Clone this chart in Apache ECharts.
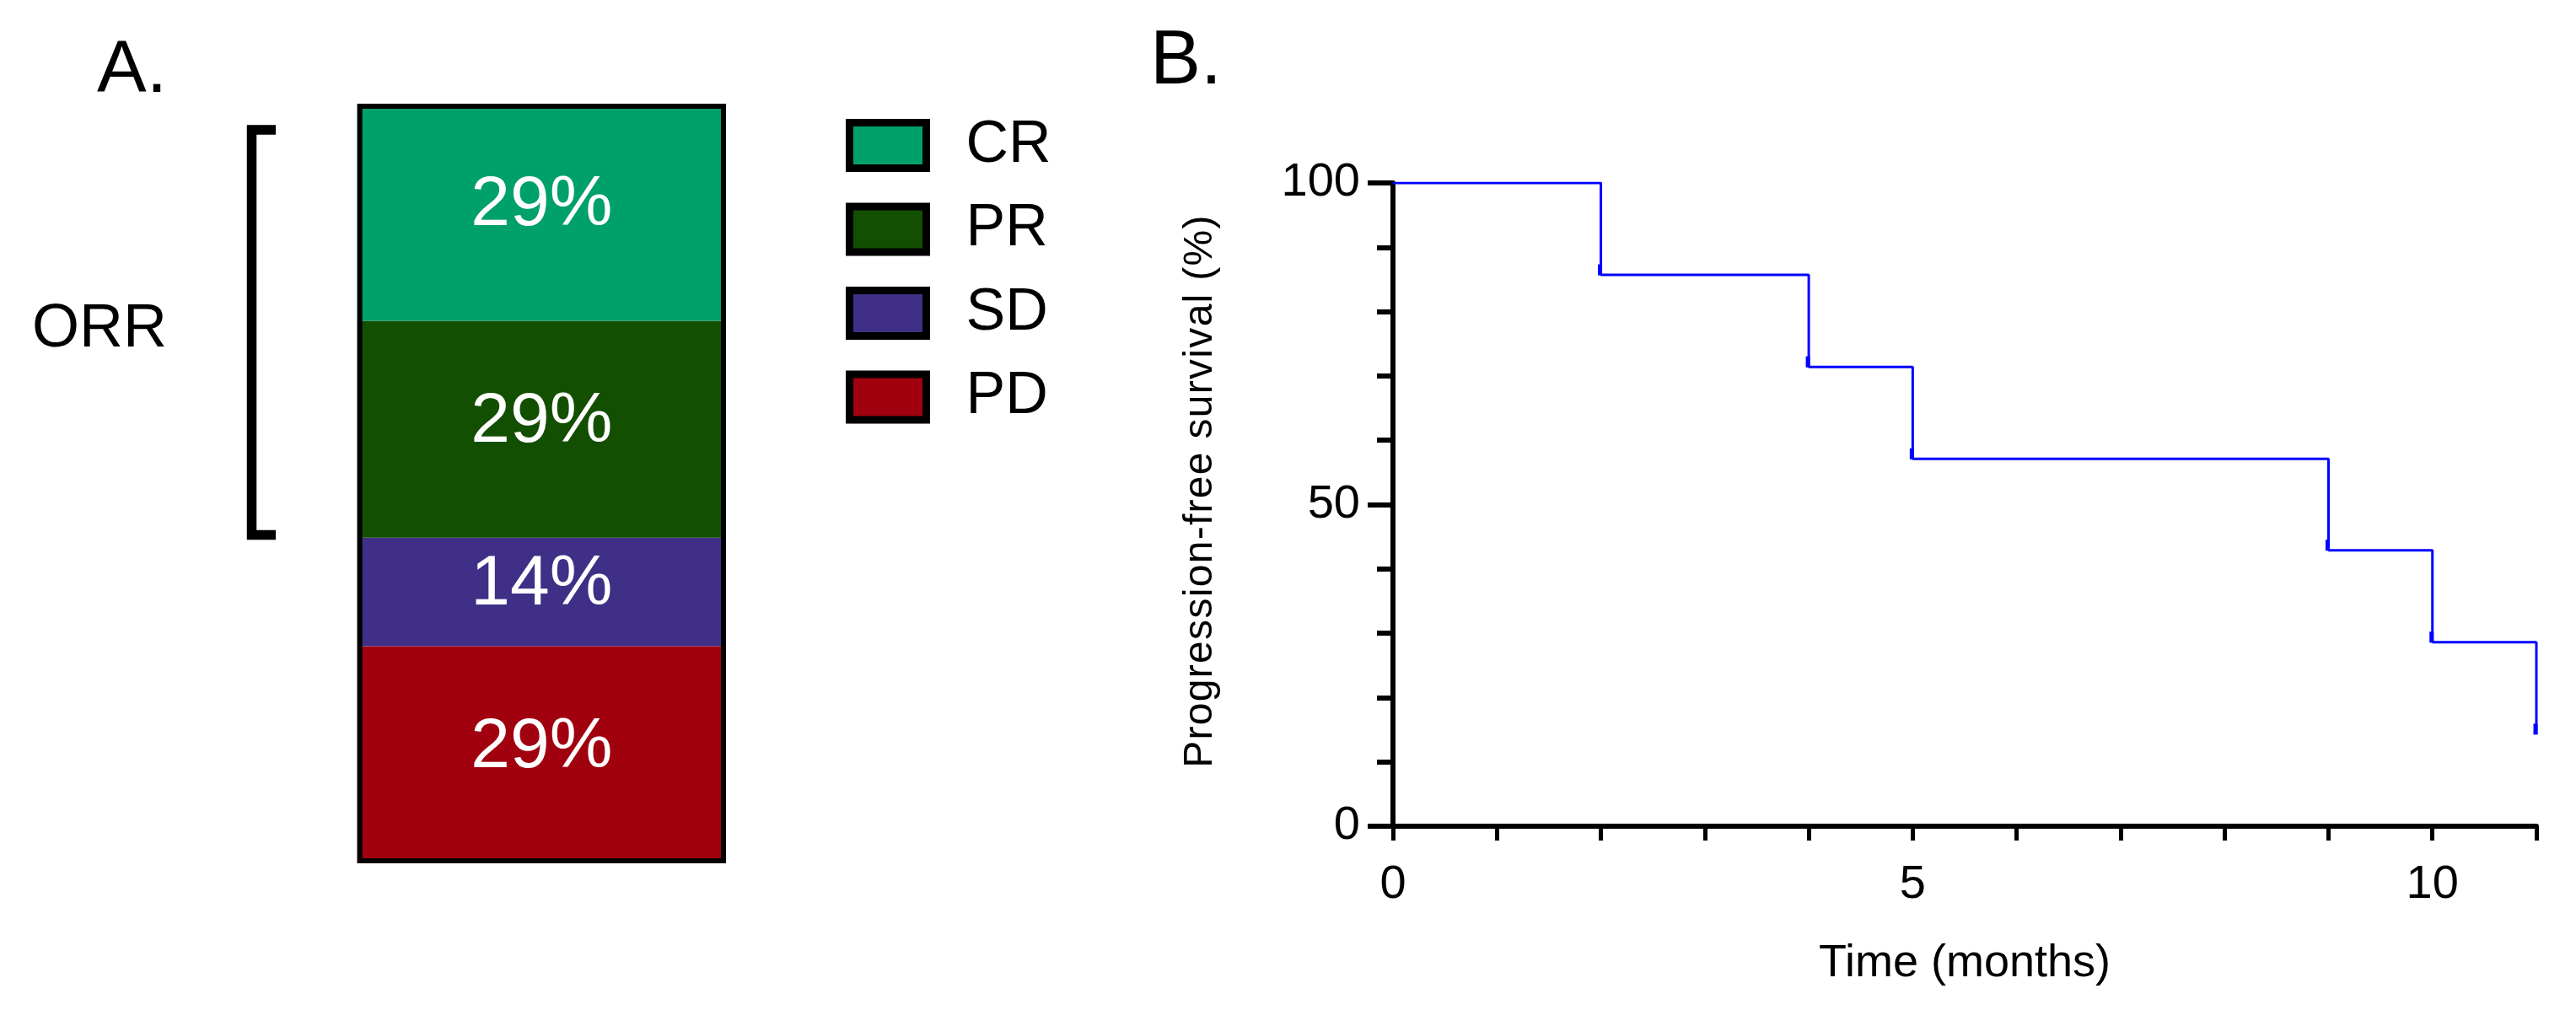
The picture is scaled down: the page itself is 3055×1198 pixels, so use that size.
<!DOCTYPE html>
<html><head><meta charset="utf-8">
<script src="https://cdn.jsdelivr.net/npm/echarts@6/dist/echarts.min.js"></script>
<style>html,body{margin:0;padding:0;background:#fff}#c{width:3055px;height:1198px}</style>
</head><body><div id="c"></div>
<script>
// ---- data ----
const responseCategories = ['CR', 'PR', 'SD', 'PD'];
const responsePercent = [28.57, 28.57, 14.29, 28.57];
const responseLabels = ['29%', '29%', '14%', '29%'];
const pfsTime = [0, 2, 4, 5, 9, 10, 11];
const pfsSurvival = [100, 85.7, 71.4, 57.1, 42.9, 28.6, 14.3];
const xTickLabels = ['0', '5', '10'];
const yTickLabels = ['0', '50', '100'];
const yTitle = 'Progression-free survival (%)';
const xTitle = 'Time (months)';

// ---- styles ----
const responseColors = {CR: '#00A06B', PR: '#134F00', SD: '#3F2F87', PD: '#A1000F'};
const FONT = '"Liberation Sans", Arial, Helvetica, sans-serif';

// slightly wider tracking for the y-axis title only, as in the reference
(function () {
  const proto = CanvasRenderingContext2D.prototype;
  const orig = proto.fillText;
  proto.fillText = function (t, x, y, w) {
    if (t === yTitle && 'letterSpacing' in this) {
      this.save();
      this.letterSpacing = '1.3px';
      const r = w === undefined ? orig.call(this, t, x, y) : orig.call(this, t, x, y, w);
      this.restore();
      return r;
    }
    return w === undefined ? orig.call(this, t, x, y) : orig.call(this, t, x, y, w);
  };
})();

const chart = echarts.init(document.getElementById('c'), null, {renderer: 'canvas'});

const stackSeries = responseCategories.map((name, i) => ({
  type: 'bar', name: name, stack: 'resp', xAxisIndex: 0, yAxisIndex: 0,
  data: [responsePercent[i]], barWidth: '100%',
  itemStyle: {color: responseColors[name]},
  label: {show: true, position: 'inside', formatter: responseLabels[i], color: '#fff',
          fontSize: 84, fontFamily: FONT, offset: [0, -8]},
  silent: true
})).reverse();

const total = responsePercent.reduce((a, b) => a + b, 0);
const borderSeries = {
  type: 'bar', name: 'total', xAxisIndex: 0, yAxisIndex: 0, data: [total],
  barWidth: '100%', barGap: '-100%', z: 5, silent: true,
  itemStyle: {color: 'rgba(0,0,0,0)', borderColor: '#000', borderWidth: 6}
};

const kmSeries = {
  type: 'line', name: 'PFS', xAxisIndex: 1, yAxisIndex: 1, step: 'end',
  data: pfsTime.map((t, i) => [t, pfsSurvival[i]]),
  lineStyle: {color: '#0000FF', width: 3},
  itemStyle: {color: '#0000FF'},
  symbol: 'rect',
  symbolSize: (v, p) => p.dataIndex === 0 ? 0 : [5, 13],
  symbolOffset: [-1, -6],
  showSymbol: true, silent: true
};

chart.setOption({
  animation: false,
  backgroundColor: '#fff',
  grid: [
    {left: 423.7, top: 123, width: 437.3, height: 901, containLabel: false},
    {left: 1652, top: 217, width: 1356, height: 763, containLabel: false}
  ],
  xAxis: [
    {type: 'category', gridIndex: 0, data: ['Response'], show: false},
    {type: 'value', gridIndex: 1, min: 0, max: 11, interval: 1,
     axisLine: {show: true, lineStyle: {color: '#000', width: 6}},
     axisTick: {show: true, length: 17, lineStyle: {color: '#000', width: 5}},
     axisLabel: {formatter: v => xTickLabels.includes(String(v)) ? String(v) : '',
                 fontSize: 56, color: '#000', fontFamily: FONT, margin: 42},
     splitLine: {show: false},
     name: xTitle, nameLocation: 'middle', nameGap: 136,
     nameTextStyle: {fontSize: 54, color: '#000', fontFamily: FONT}}
  ],
  yAxis: [
    {type: 'value', gridIndex: 0, min: 0, max: 100, show: false},
    {type: 'value', gridIndex: 1, min: 0, max: 100, interval: 50,
     axisLine: {show: true, lineStyle: {color: '#000', width: 6}},
     axisTick: {show: true, length: 30, lineStyle: {color: '#000', width: 6}},
     minorTick: {show: true, splitNumber: 5, length: 19, lineStyle: {color: '#000', width: 6}},
     axisLabel: {formatter: v => yTickLabels.includes(String(v)) ? String(v) : '',
                 fontSize: 56, color: '#000', fontFamily: FONT, margin: 39},
     splitLine: {show: false}, minorSplitLine: {show: false},
     name: yTitle, nameLocation: 'middle', nameGap: 204,
     nameTextStyle: {fontSize: 48, color: '#000', fontFamily: FONT, padding: [0, 0, 0, 32]}}
  ],
  legend: {
    data: responseCategories, orient: 'vertical', left: 1003, top: 137.5, padding: 0,
    itemWidth: 91, itemHeight: 54, itemGap: 29.5, icon: 'rect',
    itemStyle: {borderColor: '#000', borderWidth: 9},
    textStyle: {fontSize: 70, color: '#000', fontFamily: FONT, lineHeight: 60, padding: [0, 0, 0, 42]},
    selectedMode: false
  },
  series: [...stackSeries, borderSeries, kmSeries],
  graphic: [
    {type: 'text', x: 115, y: 85, style: {text: 'A.', font: '88px ' + FONT, fill: '#000', align: 'left', verticalAlign: 'middle'}},
    {type: 'text', x: 1364, y: 74, style: {text: 'B.', font: '90px ' + FONT, fill: '#000', align: 'left', verticalAlign: 'middle'}},
    {type: 'text', x: 38, y: 391, style: {text: 'ORR', font: '72px ' + FONT, fill: '#000', align: 'left', verticalAlign: 'middle'}},
    {type: 'polyline', shape: {points: [[327, 154], [298.5, 154], [298.5, 634.5], [327, 634.5]]},
     style: {stroke: '#000', lineWidth: 11.5, fill: null, lineJoin: 'miter', lineCap: 'butt'}}
  ]
});
</script></body></html>
